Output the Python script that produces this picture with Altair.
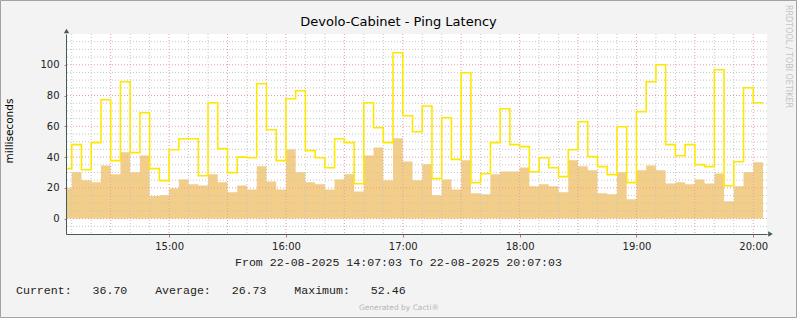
import altair as alt
import pandas as pd

# ---------------- data ----------------
DATE = "2025-08-22"
FIRST_STEP_START = "14:05"      # 5-minute RRD steps, first one partially visible
STEP_MINUTES = 5

AVG_MS = [19.7, 30.1, 24.9, 23.6, 34.6, 28.8, 43.1, 30.1, 41.1, 14.7, 15.2, 19.7,
          25.5, 22.3, 21.6, 28.8, 23.6, 17.1, 21.6, 19.0, 34.0, 24.2, 19.0, 45.0,
          30.1, 23.6, 22.3, 19.0, 25.5, 28.8, 17.7, 41.1, 46.3, 24.9, 52.2, 37.2,
          24.9, 35.3, 15.2, 25.5, 19.0, 37.9, 16.5, 15.8, 28.8, 30.7, 30.7, 33.3,
          21.0, 22.3, 21.0, 17.1, 37.9, 34.0, 31.4, 16.5, 15.8, 30.1, 12.6, 31.4,
          34.6, 31.4, 22.9, 23.6, 22.3, 25.5, 22.9, 29.4, 11.3, 21.0, 30.1, 36.6]

MAX_MS = [32.5, 48.1, 31.8, 49.4, 77.3, 37.7, 89.0, 42.9, 68.8, 32.5, 24.7, 44.8,
          51.9, 51.9, 27.9, 75.3, 45.5, 29.9, 40.0, 39.6, 87.7, 57.8, 37.7, 77.9,
          83.1, 44.2, 39.6, 33.1, 51.9, 49.4, 22.7, 75.3, 59.1, 49.4, 107.8, 66.9,
          56.5, 73.2, 26.0, 65.6, 38.5, 94.8, 23.4, 29.2, 49.4, 71.4, 48.1, 46.8,
          30.5, 39.6, 33.1, 27.3, 44.8, 63.0, 40.3, 33.8, 28.6, 59.7, 23.4, 69.5,
          89.0, 100.0, 48.1, 40.9, 48.1, 35.1, 33.8, 96.8, 21.4, 37.0, 85.1, 75.3]

Y_LABELS = [0, 20, 40, 60, 80, 100]
Y_GRID_MINOR = list(range(-5, 120, 5))
X_LABEL_HOURS = [15, 16, 17, 18, 19, 20]
TITLE = "Devolo-Cabinet - Ping Latency"
Y_TITLE = "milliseconds"
RANGE_TEXT = "From 22-08-2025 14:07:03 To 22-08-2025 20:07:03"
LEGEND_TEXT = "Current:   36.70    Average:   26.73    Maximum:   52.46"
CREDIT = "Generated by Cacti®"
WATERMARK = "RRDTOOL / TOBI OETIKER"

# ---------------- tables ----------------
base_t = pd.Timestamp(f"{DATE} {FIRST_STEP_START}")
times = [base_t + pd.Timedelta(minutes=STEP_MINUTES * k) for k in range(len(AVG_MS) + 1)]
fmt = "%Y-%m-%dT%H:%M:%S"
df = pd.DataFrame({
    "t": [t.strftime(fmt) for t in times],
    "avg": AVG_MS + [AVG_MS[-1]],
    "max": MAX_MS + [MAX_MS[-1]],
})

grid_times = [pd.Timestamp(f"{DATE} 14:10") + pd.Timedelta(minutes=10 * k) for k in range(36)]
vgrid_minor = pd.DataFrame({"t": [g.strftime(fmt) for g in grid_times if g.minute % 30 != 0]})
vgrid_major = pd.DataFrame({"t": [g.strftime(fmt) for g in grid_times if g.minute % 30 == 0]})
hgrid_minor = pd.DataFrame({"v": [v for v in Y_GRID_MINOR if v % 20 != 0]})
hgrid_major = pd.DataFrame({"v": [v for v in Y_GRID_MINOR if v % 20 == 0]})

W, H = 701, 200
PAD_L, PAD_T = 66, 34
TOTAL_W, TOTAL_H = 797, 318

AXIS_COLOR = "#3f5f52"
GRID_GREY = "#c6c6c6"
GRID_RED = "#e4a0a0"
ORANGE = "#F2CE88"
YELLOW = "#FFE800"


def dt(h, m, s=0):
    return alt.DateTime(year=2025, month=8, date=22, hours=h, minutes=m, seconds=s)


x_scale = alt.Scale(domain=[dt(14, 7, 3), dt(20, 7, 3)])
y_scale = alt.Scale(domain=[-10, 120], nice=False, zero=False)

x_axis = alt.Axis(
    values=[dt(h, 0) for h in X_LABEL_HOURS],
    format="%H:%M",
    grid=False,
    tickColor="#d07070",
    tickSize=3,
    domainColor=AXIS_COLOR,
    domainWidth=1,
    labelFont="DejaVu Sans",
    labelFontSize=10,
    labelColor="#222222",
    labelPadding=4,
    labelFlush=False,
    labelOverlap=False,
    zindex=1,
    title=None,
)

y_axis = alt.Axis(
    values=Y_LABELS,
    grid=False,
    tickColor="#d07070",
    tickSize=2,
    domainColor=AXIS_COLOR,
    domainWidth=1,
    labelFont="DejaVu Sans",
    labelFontSize=10,
    labelColor="#222222",
    labelPadding=5,
    labelOverlap=False,
    zindex=1,
    title=None,
)

X = alt.X("t:T", scale=x_scale, axis=x_axis)
base = alt.Chart(df)

area = base.mark_area(interpolate="step-after", color=ORANGE, opacity=1, clip=True).encode(
    x=X,
    y=alt.Y("avg:Q", scale=y_scale, axis=y_axis),
    y2=alt.datum(0),
)

line = base.mark_line(interpolate="step-after", color=YELLOW, strokeWidth=1.6, clip=True).encode(
    x=X,
    y=alt.Y("max:Q", scale=y_scale, axis=y_axis),
)

vminor = alt.Chart(vgrid_minor).mark_rule(color=GRID_GREY, strokeDash=[1, 2], strokeWidth=1).encode(x=X)
vmajor = alt.Chart(vgrid_major).mark_rule(color=GRID_RED, strokeDash=[1, 2], strokeWidth=1).encode(x=X)
hminor = alt.Chart(hgrid_minor).mark_rule(color=GRID_GREY, strokeDash=[1, 2], strokeWidth=1).encode(
    y=alt.Y("v:Q", scale=y_scale, axis=y_axis))
hmajor = alt.Chart(hgrid_major).mark_rule(color=GRID_RED, strokeDash=[1, 2], strokeWidth=1).encode(
    y=alt.Y("v:Q", scale=y_scale, axis=y_axis))


def text_layer(txt, x, y, **kw):
    return alt.Chart(pd.DataFrame({"txt": [txt]})).mark_text(**kw).encode(
        x=alt.value(x), y=alt.value(y), text="txt:N")


title = text_layer(TITLE, 398.5 - PAD_L, 22 - PAD_T, font="DejaVu Sans", fontSize=13,
                   color="#000000", align="center", baseline="middle")
ytitle = text_layer(Y_TITLE, 10 - PAD_L, 131 - PAD_T, font="DejaVu Sans", fontSize=10.5,
                    color="#000000", align="center", baseline="middle", angle=270)
range_txt = text_layer(RANGE_TEXT, 398.5 - PAD_L, 263 - PAD_T, font="Liberation Mono",
                       fontSize=11.6, color="#222222", align="center", baseline="middle")
legend_txt = text_layer(LEGEND_TEXT.replace(" ", "\u00a0"), 16 - PAD_L, 291 - PAD_T,
                        font="Liberation Mono", fontSize=11.6, color="#222222",
                        align="left", baseline="middle")
credit = text_layer(CREDIT, 399 - PAD_L, 308 - PAD_T, font="DejaVu Sans", fontSize=7.5,
                    color="#b5b5b5", align="center", baseline="middle")
watermark = text_layer(WATERMARK, 788 - PAD_L, 5 - PAD_T, font="DejaVu Sans", fontSize=8,
                       color="#c4c4c4", align="left", baseline="middle", angle=90)

marker = pd.DataFrame({"m": [0]})
arrow_up = alt.Chart(marker).mark_point(shape="triangle-up", filled=True, size=28,
                                        color=AXIS_COLOR, opacity=1).encode(
    x=alt.value(0.5), y=alt.value(-3))
arrow_right = alt.Chart(marker).mark_point(shape="triangle-right", filled=True, size=28,
                                           color=AXIS_COLOR, opacity=1).encode(
    x=alt.value(W + 3.5), y=alt.value(H))

frame = alt.Chart(marker).mark_rect(fillOpacity=0, stroke="#a3a3a3", strokeWidth=1).encode(
    x=alt.value(-PAD_L + 0.5), x2=alt.value(TOTAL_W - PAD_L - 0.5),
    y=alt.value(-PAD_T + 0.5), y2=alt.value(TOTAL_H - PAD_T - 0.5))

chart = alt.layer(
    area, vminor, hminor, vmajor, hmajor, line,
    title, ytitle, range_txt, legend_txt, credit, watermark,
    arrow_up, arrow_right, frame,
).properties(
    width=W, height=H,
    autosize=alt.AutoSizeParams(type="none"),
    padding={"left": PAD_L, "top": PAD_T, "right": TOTAL_W - PAD_L - W,
             "bottom": TOTAL_H - PAD_T - H},
    background="#f3f3f3",
).configure_view(fill="white", strokeWidth=0)

chart.save("out.html", embed_options={"renderer": "svg", "actions": False})
